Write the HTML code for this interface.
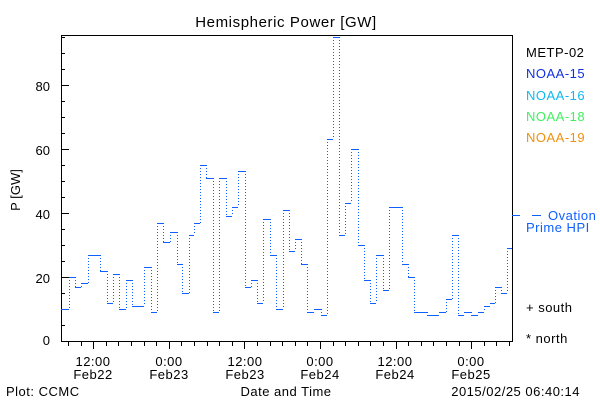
<!DOCTYPE html>
<html><head><style>
html,body{margin:0;padding:0;background:#fff;}
svg{display:block;font-family:"Liberation Sans",sans-serif;}
</style></head><body>
<svg id="s" width="600" height="400" xmlns="http://www.w3.org/2000/svg">
<rect width="600" height="400" fill="#fff"/>
<text x="286" y="27" font-size="15" text-anchor="middle" letter-spacing="0.6">Hemispheric Power [GW]</text>
<rect x="61.5" y="35.5" width="451" height="306" fill="none" stroke="#000" stroke-width="1" shape-rendering="crispEdges"/>
<g id="ax" stroke="#000" stroke-width="1" shape-rendering="crispEdges"></g>
<g font-size="13" text-anchor="end">
<text x="50" y="345">0</text><text x="50" y="283">20</text><text x="50" y="219">40</text><text x="50" y="155">60</text><text x="50" y="91">80</text>
</g>
<text x="20" y="190" font-size="13" transform="rotate(-90 20 190)" text-anchor="middle">P [GW]</text>
<g font-size="13" text-anchor="middle" letter-spacing="0.5">
<text x="93" y="366">12:00</text><text x="93" y="379">Feb22</text>
<text x="169" y="366">0:00</text><text x="169" y="379">Feb23</text>
<text x="245" y="366">12:00</text><text x="245" y="379">Feb23</text>
<text x="320" y="366">0:00</text><text x="320" y="379">Feb24</text>
<text x="395" y="366">12:00</text><text x="395" y="379">Feb24</text>
<text x="471" y="366">0:00</text><text x="471" y="379">Feb25</text>
<text x="286" y="396">Date and Time</text>
</g>
<text x="6" y="396" font-size="13" letter-spacing="0.5">Plot: CCMC</text>
<text x="580" y="396" font-size="13" text-anchor="end" letter-spacing="0.5">2015/02/25 06:40:14</text>
<g font-size="13" letter-spacing="0.5">
<text x="526" y="57" fill="#000">METP-02</text>
<text x="526" y="78" fill="#1030e0">NOAA-15</text>
<text x="526" y="100" fill="#10b8f0">NOAA-16</text>
<text x="526" y="121" fill="#40f060">NOAA-18</text>
<text x="526" y="142" fill="#f09010">NOAA-19</text>
<text x="548" y="220" fill="#1060ff">Ovation</text>
<text x="526" y="232" fill="#1060ff">Prime HPI</text>
<text x="526" y="312">+ south</text>
<text x="526" y="343">* north</text>
</g>
<path d="M512 215.5H520M532 215.5H541" stroke="#1060ff" stroke-width="1" shape-rendering="crispEdges"/>
<g id="d"></g>
</svg>
<script>
var ax=document.getElementById('ax'),h='';
for(var v=0;v<=95;v+=5){var y=Math.round(341-v*3.2)+0.5;var L=(v%20==0)?8:4;h+='<line x1="61" x2="'+(61+L)+'" y1="'+y+'" y2="'+y+'"/>';}
for(var i=0;i<40;i++){var x=68+i*12.6;if(x>512)break;var maj=Math.abs(((x-93)/75.6)-Math.round((x-93)/75.6))<0.05;var L=maj?8:5;var xr=Math.round(x)+0.5;h+='<line x1="'+xr+'" x2="'+xr+'" y1="341" y2="'+(341+L)+'"/>';}
ax.innerHTML=h;
var s=[[61,10],[69,20],[75,17],[81,18],[88,27],[100,22],[107,12],[113,21],[119,10],[126,19],[132,11],[144,23],[151,9],[157,37],[163,31],[170,34],[177,24],[182,15],[189,33],[194,37],[200,55],[206,51],[213,9],[219,51],[226,39],[232,42],[238,53],[245,17],[251,19],[257,12],[263,38],[270,27],[276,10],[283,41],[289,28],[295,32],[301,24],[307,9],[314,10],[321,8],[327,63],[333,95],[339,33],[345,43],[351,60],[358,30],[364,19],[370,12],[376,27],[383,16],[389,42],[402,24],[408,20],[414,9],[427,8],[439,9],[446,13],[452,33],[458,8],[464,9],[471,8],[478,9],[484,11],[490,12],[495,17],[501,15],[507,29],[512,29]];
var hz='',vt='';
function Y(v){return Math.round(341-v*3.2)+0.5;}
for(var i=0;i<s.length-1;i++){var y=Y(s[i][1]);hz+='M'+s[i][0]+' '+y+'H'+s[i+1][0];
var y2=Y(s[i+1][1]);if(i<s.length-2){var a=Math.min(y,y2)-0.5,b=Math.max(y,y2)-0.5;vt+='M'+(s[i+1][0]+0.5)+' '+a+'V'+b;}}
document.getElementById('d').innerHTML='<path d="'+hz+'" stroke="#1060ff" stroke-width="1" fill="none" shape-rendering="crispEdges"/><path d="'+vt+'" stroke="#1060ff" stroke-width="1" stroke-dasharray="1,2" fill="none" shape-rendering="crispEdges"/>';
</script>
</body></html>
